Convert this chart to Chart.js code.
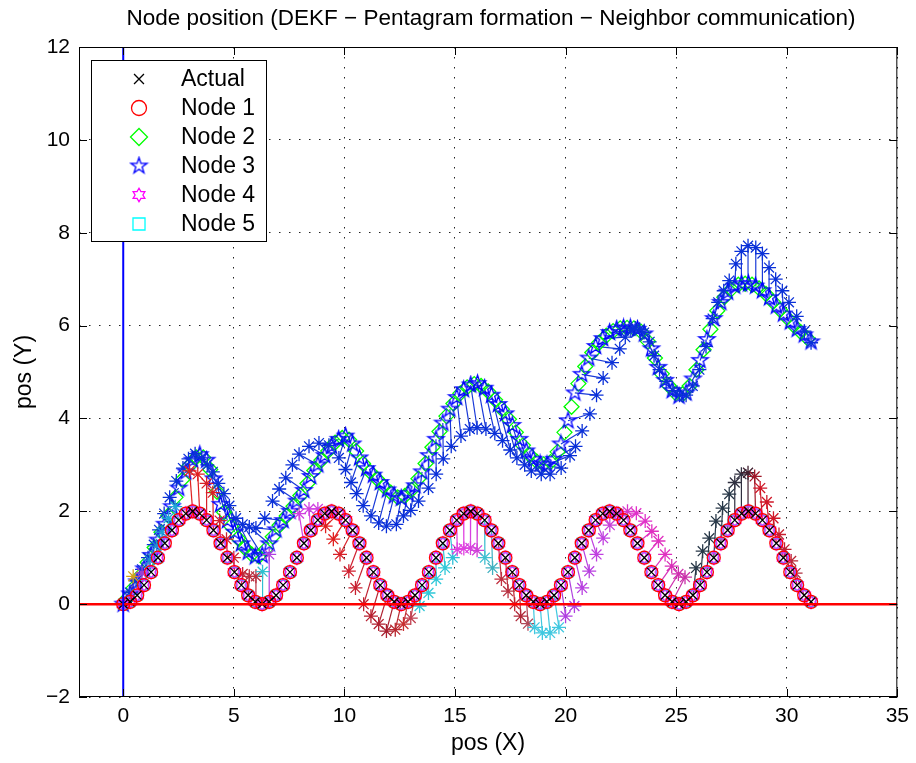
<!DOCTYPE html>
<html>
<head>
<meta charset="utf-8">
<script src="https://cdn.jsdelivr.net/npm/chart.js@4.4.0/dist/chart.umd.min.js"></script>
<style>
  html, body { margin: 0; padding: 0; background: #fff; }
</style>
</head>
<body>
<canvas id="chart" width="916" height="763"></canvas>
<script>
// x of each time sample (lower track and Node 3)
const trackX = [0, 0.31, 0.63, 0.94, 1.26, 1.57, 1.88, 2.2, 2.51, 2.83,
  3.14, 3.46, 3.77, 4.08, 4.4, 4.71, 5.03, 5.34, 5.65, 5.97,
  6.28, 6.6, 6.91, 7.23, 7.54, 7.85, 8.17, 8.48, 8.8, 9.11,
  9.42, 9.74, 10.05, 10.37, 10.68, 11.0, 11.31, 11.62, 11.94, 12.25,
  12.57, 12.88, 13.19, 13.51, 13.82, 14.14, 14.45, 14.77, 15.08, 15.39,
  15.71, 16.02, 16.34, 16.65, 16.96, 17.28, 17.59, 17.91, 18.22, 18.54,
  18.85, 19.16, 19.48, 19.79, 20.11, 20.42, 20.73, 21.05, 21.36, 21.68,
  21.99, 22.31, 22.62, 22.93, 23.25, 23.56, 23.88, 24.19, 24.5, 24.82,
  25.13, 25.45, 25.76, 26.08, 26.39, 26.7, 27.02, 27.33, 27.65, 27.96,
  28.27, 28.59, 28.9, 29.22, 29.53, 29.85, 30.16, 30.47, 30.79, 31.1];

// lower track: Actual, Node 1, Node 4, Node 5
const lowerY = [0, 0.05, 0.19, 0.41, 0.69, 1, 1.31, 1.59, 1.81, 1.95, 2, 1.95, 1.81, 1.59, 1.31, 1, 0.69, 0.41, 0.19, 0.05,
  0, 0.05, 0.19, 0.41, 0.69, 1, 1.31, 1.59, 1.81, 1.95, 2, 1.95, 1.81, 1.59, 1.31, 1, 0.69, 0.41, 0.19, 0.05,
  0, 0.05, 0.19, 0.41, 0.69, 1, 1.31, 1.59, 1.81, 1.95, 2, 1.95, 1.81, 1.59, 1.31, 1, 0.69, 0.41, 0.19, 0.05,
  0, 0.05, 0.19, 0.41, 0.69, 1, 1.31, 1.59, 1.81, 1.95, 2, 1.95, 1.81, 1.59, 1.31, 1, 0.69, 0.41, 0.19, 0.05,
  0, 0.05, 0.19, 0.41, 0.69, 1, 1.31, 1.59, 1.81, 1.95, 2, 1.95, 1.81, 1.59, 1.31, 1, 0.69, 0.41, 0.19, 0.05];

// upper track: Node 3 (pentagrams)
const upperY = [0, 0.22, 0.48, 0.76, 1.05, 1.38, 1.72, 2.1, 2.5, 2.85, 3.1, 3.22, 3.1, 2.7, 2.15, 1.8, 1.55, 1.3, 1.12, 1.02,
  1.05, 1.3, 1.6, 1.8, 2.0, 2.22, 2.45, 2.75, 3.0, 3.2, 3.4, 3.55, 3.62, 3.45, 3.15, 2.92, 2.78, 2.62, 2.46, 2.33,
  2.28, 2.38, 2.55, 2.85, 3.2, 3.55, 3.9, 4.2, 4.45, 4.62, 4.72, 4.75, 4.65, 4.5, 4.3, 4.1, 3.85, 3.55, 3.3, 3.12,
  3.02, 3.0, 3.12, 3.45, 3.95, 4.55, 4.95, 5.3, 5.55, 5.72, 5.85, 5.92, 5.95, 5.95, 5.92, 5.82, 5.5, 5.1, 4.82, 4.6,
  4.48, 4.55, 4.85, 5.25, 5.7, 6.15, 6.5, 6.72, 6.85, 6.9, 6.9, 6.85, 6.75, 6.6, 6.42, 6.25, 6.08, 5.92, 5.8, 5.65];

// Node 2 (diamonds), running just beside Node 3
const node2X = [0.16, 0.47, 0.79, 1.1, 1.42, 1.73, 2.04, 2.36, 2.67, 2.99, 3.3, 3.62, 3.93, 4.24, 4.56, 4.87, 5.19, 5.5, 5.81, 6.13,
  6.44, 6.76, 7.07, 7.39, 7.7, 8.01, 8.33, 8.64, 8.96, 9.27, 9.58, 9.9, 10.21, 10.53, 10.84, 11.16, 11.47, 11.78, 12.1, 12.41,
  12.73, 13.04, 13.35, 13.67, 13.98, 14.3, 14.61, 14.93, 15.24, 15.55, 15.87, 16.18, 16.5, 16.81, 17.12, 17.44, 17.75, 18.07, 18.38, 18.7,
  19.01, 19.32, 19.64, 19.95, 20.27, 20.58, 20.89, 21.21, 21.52, 21.84, 22.15, 22.47, 22.78, 23.09, 23.41, 23.72, 24.04, 24.35, 24.66, 24.98,
  25.29, 25.61, 25.92, 26.24, 26.55, 26.86, 27.18, 27.49, 27.81, 28.12, 28.43, 28.75, 29.06, 29.38, 29.69, 30.01, 30.32, 30.63, 30.95];
const node2Y = [0.11, 0.35, 0.62, 0.9, 1.22, 1.55, 1.91, 2.3, 2.68, 2.98, 3.16, 3.16, 2.9, 2.42, 1.98, 1.68, 1.42, 1.21, 1.07, 1.03,
  1.18, 1.45, 1.7, 1.9, 2.11, 2.34, 2.6, 2.88, 3.1, 3.3, 3.48, 3.58, 3.54, 3.3, 3.03, 2.85, 2.7, 2.54, 2.4, 2.3,
  2.33, 2.46, 2.7, 3.03, 3.38, 3.72, 4.05, 4.32, 4.54, 4.67, 4.74, 4.7, 4.58, 4.4, 4.2, 3.98, 3.7, 3.42, 3.21, 3.07,
  3.01, 3.06, 3.28, 3.7, 4.25, 4.75, 5.12, 5.42, 5.63, 5.78, 5.88, 5.94, 5.95, 5.94, 5.87, 5.66, 5.3, 4.96, 4.71, 4.54,
  4.52, 4.7, 5.05, 5.48, 5.92, 6.32, 6.61, 6.78, 6.88, 6.9, 6.88, 6.8, 6.68, 6.51, 6.34, 6.17, 6.0, 5.86, 5.72];

// estimates of the upper track (blue asterisks), one per sample
const upperEstX = [0, 0.3, 0.58, 0.85, 1.12, 1.38, 1.62, 1.85, 2.1, 2.4, 2.7, 2.95, 3.25, 3.55, 3.8, 4.05, 4.3, 4.55, 4.8, 5.1,
  5.4, 5.7, 6.0, 6.4, 6.75, 7.05, 7.35, 7.65, 7.95, 8.4, 8.85, 9.3, 9.75, 10.05, 10.3, 10.55, 10.85, 11.2, 11.55, 11.9,
  12.35, 12.67, 13.0, 13.35, 13.8, 14.15, 14.47, 14.83, 15.27, 15.67, 16.0, 16.4, 16.8, 17.15, 17.5, 17.8, 18.15, 18.45, 18.9, 19.3,
  19.8, 20.2, 20.45, 20.75, 21.1, 21.4, 21.7, 22.1, 22.45, 22.7, 22.95, 23.15, 23.35, 23.55, 23.8, 24.0, 24.25, 24.55, 24.85, 25.15,
  25.45, 25.75, 26.05, 26.35, 26.65, 26.9, 27.15, 27.4, 27.7, 27.95, 28.25, 28.6, 28.9, 29.2, 29.5, 29.8, 30.1, 30.45, 30.8, 31.1];
const upperEstY = [0, 0.25, 0.5, 0.75, 1.0, 1.28, 1.6, 1.95, 2.3, 2.65, 2.93, 3.13, 3.24, 3.15, 3.0, 2.85, 2.6, 2.38, 2.12, 1.85,
  1.72, 1.66, 1.64, 1.85, 2.22, 2.48, 2.72, 3.0, 3.23, 3.4, 3.47, 3.42, 3.15, 2.9, 2.62, 2.38, 2.12, 1.9, 1.75, 1.68,
  1.72, 1.9, 2.02, 2.22, 2.5, 2.8, 3.13, 3.4, 3.62, 3.77, 3.8, 3.77, 3.68, 3.52, 3.32, 3.15, 3.0, 2.87, 2.8, 2.8,
  2.93, 3.2, 3.4, 3.73, 4.1, 4.5, 4.87, 5.2, 5.5, 5.75, 5.9, 5.95, 5.92, 5.85, 5.65, 5.35, 5.05, 4.8, 4.6, 4.5,
  4.5, 4.7, 5.05, 5.55, 6.15, 6.5, 6.75, 6.97, 7.33, 7.6, 7.72, 7.68, 7.55, 7.25, 7.0, 6.75, 6.5, 6.2, 5.88, 5.63];

// estimates of the lower track that stand off it; K = sample they belong to
const lowerEstK = [1, 2, 4, 5, 6, 7, 8, 10, 11, 12, 13, 14, 15, 16, 17, 18, 19, 20, 21,
  26, 27, 28, 31, 32, 33, 34, 35, 36, 37, 38, 39, 40, 41, 42, 43, 44, 45, 46, 47,
  48, 49, 50, 51, 52, 53, 54, 55, 56, 57, 58, 59, 60, 61, 62, 63, 64, 65, 66, 67, 68,
  69, 70, 71, 72, 73, 74, 75, 76, 77, 78, 79,
  82, 83, 84, 85, 86, 87, 88, 89, 90, 91, 92, 93, 94, 95, 96, 97, 98];
const lowerEstX = [0.45, 0.85, 1.2, 1.5, 1.75, 2.05, 2.35, 3.0, 3.37, 3.77, 4.05, 4.36, 4.67, 5.0, 5.4, 5.7, 6.0, 6.3, 6.6,
  7.95, 8.4, 8.8, 9.15, 9.5, 9.8, 10.2, 10.5, 10.87, 11.2, 11.55, 11.9, 12.3, 12.67, 13.0, 13.4, 13.8, 14.15, 14.55, 14.9,
  15.1, 15.4, 15.7, 16.0, 16.35, 16.7, 17.1, 17.4, 17.7, 17.97, 18.3, 18.6, 18.95, 19.3, 19.7, 20.0, 20.4, 20.75, 21.07, 21.4, 21.7,
  22.0, 22.4, 22.8, 23.2, 23.6, 23.9, 24.2, 24.5, 24.8, 25.1, 25.4,
  25.9, 26.2, 26.5, 26.8, 27.1, 27.4, 27.65, 27.95, 28.25, 28.55, 28.8, 29.1, 29.4, 29.65, 29.9, 30.2, 30.4];
const lowerEstY = [0.6, 0.67, 0.95, 1.25, 1.55, 1.85, 2.1, 2.87, 2.8, 2.6, 2.4, 1.8, 1.4, 1.0, 0.65, 0.6, 0.6, 0.7, 1.07,
  1.95, 2.05, 2.05, 1.68, 1.4, 1.07, 0.71, 0.35, 0.0, -0.26, -0.43, -0.58, -0.55, -0.43, -0.3, -0.04, 0.24, 0.54, 0.78, 1.0,
  1.18, 1.2, 1.21, 1.16, 1.0, 0.78, 0.54, 0.28, 0.0, -0.26, -0.42, -0.5, -0.62, -0.62, -0.5, -0.26, -0.04, 0.35, 0.71, 1.07, 1.42,
  1.7, 1.95, 2.0, 1.96, 1.79, 1.57, 1.36, 1.07, 0.82, 0.65, 0.58,
  0.78, 1.14, 1.42, 1.79, 2.07, 2.37, 2.62, 2.8, 2.83, 2.75, 2.5, 2.2, 1.85, 1.5, 1.18, 0.93, 0.67];
const lowerEstColor = ['#d4a017', '#a040d0', '#2090d0', '#2090d0', '#20a0d8', '#20a8d8', '#20a8d8',
  '#e02020', '#e02020', '#d82028', '#d82028', '#d02030', '#d02030', '#c82838', '#c02838', '#b83040', '#b83040', '#30c0d0', '#b040e0',
  '#d040e0', '#d040e0', '#d040e0',
  '#e02020', '#e02020', '#d82028', '#d02030', '#c82030', '#c02030', '#b82030', '#b02030', '#a82030', '#b82830', '#c83030', '#c04050',
  '#30c8d8', '#30c8d8', '#30c8d8', '#30c8d8', '#30c0d8',
  '#e040e0', '#e040e0', '#d840e0', '#d040d8', '#40c0d0', '#40b0c0',
  '#c03040', '#b83040', '#c02030', '#b02838', '#b04858',
  '#40c8e0', '#40c8e0', '#40c8e0', '#40c8e0',
  '#b040e0', '#b040e0', '#b840e0', '#b840e0', '#c040e0', '#c040e0',
  '#c840d8', '#d040d0', '#d838c8', '#e030c8', '#e030c8', '#e030c0', '#e030c0', '#e030c0', '#d830b8', '#d030b0', '#c830a8',
  '#283848', '#283848', '#283848', '#283848', '#283848', '#283848', '#303040', '#303040', '#402030',
  '#a01828', '#d01828', '#d01828', '#d01828', '#c82030', '#c02030', '#b82838', '#b03040'];

// reference lines drawn along the axes
const zeroLineX = [-2, 35];
const zeroLineY = [-2, 12];

const xTicks = [0, 5, 10, 15, 20, 25, 30, 35];
const yTicks = [-2, 0, 2, 4, 6, 8, 10, 12];
const legendNames = ['Actual', 'Node 1', 'Node 2', 'Node 3', 'Node 4', 'Node 5'];

const FONT = '"Liberation Sans", Arial, Helvetica, sans-serif';
const LW = 1.3;

function starShape(n, rOut, rIn, color) {
  const size = Math.ceil(rOut * 2 + 4);
  const c = document.createElement('canvas');
  c.width = size; c.height = size;
  const g = c.getContext('2d');
  g.strokeStyle = color;
  g.lineWidth = LW;
  g.beginPath();
  for (let i = 0; i < 2 * n; i++) {
    const r = i % 2 ? rIn : rOut;
    const a = -Math.PI / 2 + i * Math.PI / n;
    const px = size / 2 + r * Math.cos(a), py = size / 2 + r * Math.sin(a);
    if (i === 0) g.moveTo(px, py); else g.lineTo(px, py);
  }
  g.closePath();
  g.stroke();
  return c;
}
const pentagram = starShape(5, 8.5, 3.3, '#0000ff');
const hexagram = starShape(6, 6.8, 3.9, '#ff00ff');

const pts = (xs, ys) => xs.map((v, i) => ({x: v, y: ys[i]}));
const lowerPts = pts(trackX, lowerY);
const upperPts = pts(trackX, upperY);

function stems(kList, ex, ey, ty) {
  const out = [];
  kList.forEach((k, i) => {
    out.push({x: trackX[k], y: ty[k]}, {x: ex[i], y: ey[i]}, {x: ex[i], y: null});
  });
  return out;
}
const upperK = trackX.map((v, i) => i);

function marker(label, data, style, color, radius, order) {
  return {
    label, data, order,
    pointStyle: style,
    pointRadius: radius,
    pointBorderColor: color,
    pointBackgroundColor: 'rgba(0,0,0,0)',
    pointBorderWidth: LW,
    showLine: false
  };
}

const datasets = [
  {
    label: 'lower stems', order: 12, showLine: true, pointRadius: 0, borderWidth: 1.2,
    data: stems(lowerEstK, lowerEstX, lowerEstY, lowerY),
    segment: { borderColor: c => lowerEstColor[Math.floor(c.p0DataIndex / 3)] }
  },
  {
    label: 'upper stems', order: 11, showLine: true, pointRadius: 0, borderWidth: 1.2,
    borderColor: '#1a3ad8',
    data: stems(upperK, upperEstX, upperEstY, upperY)
  },
  marker('Node 2', pts(node2X, node2Y), 'rectRot', '#00ff00', 7.5, 10),
  marker('Node 3', upperPts, pentagram, '#0000ff', 8, 9),
  marker('upper estimate', pts(upperEstX, upperEstY), 'star', '#0a30d8', 7, 8),
  marker('lower estimate', pts(lowerEstX, lowerEstY), 'star', lowerEstColor, 7, 7),
  marker('Node 5', lowerPts, 'rect', '#00ffff', 6.8, 6),
  marker('Node 4', lowerPts, hexagram, '#ff00ff', 6.5, 5),
  marker('Node 1', lowerPts, 'circle', '#ff0000', 6.5, 4),
  marker('Actual', lowerPts, 'crossRot', '#000000', 6, 3),
  {
    label: 'y = 0', order: 2, showLine: true, pointRadius: 0, borderWidth: 2.5, borderColor: '#ff0000',
    data: zeroLineX.map(v => ({x: v, y: 0}))
  },
  {
    label: 'x = 0', order: 1, showLine: true, pointRadius: 0, borderWidth: 2, borderColor: '#0000ff',
    data: zeroLineY.map(v => ({x: 0, y: v}))
  }
];

const legendStyles = [
  {style: 'crossRot', color: '#000000', r: 7},
  {style: 'circle', color: '#ff0000', r: 7.5},
  {style: 'rectRot', color: '#00ff00', r: 8.5},
  {style: pentagram, color: '#0000ff', r: 8},
  {style: hexagram, color: '#ff00ff', r: 7},
  {style: 'rect', color: '#00ffff', r: 8.5}
];

const decor = {
  id: 'decor',
  afterDatasetsDraw(chart) {
    const {ctx, chartArea: a, scales: {x, y}} = chart;
    ctx.save();
    ctx.strokeStyle = '#000';
    ctx.lineWidth = 1;
    ctx.strokeRect(a.left + 0.5, a.top + 0.5, a.right - a.left - 1, a.bottom - a.top - 1);
    ctx.beginPath();
    xTicks.forEach(v => {
      const p = Math.round(x.getPixelForValue(v)) + 0.5;
      ctx.moveTo(p, a.bottom); ctx.lineTo(p, a.bottom - 8);
      ctx.moveTo(p, a.top); ctx.lineTo(p, a.top + 8);
    });
    yTicks.forEach(v => {
      const p = Math.round(y.getPixelForValue(v)) + 0.5;
      ctx.moveTo(a.left, p); ctx.lineTo(a.left + 8, p);
      ctx.moveTo(a.right, p); ctx.lineTo(a.right - 8, p);
    });
    ctx.stroke();

    ctx.fillStyle = '#000';
    ctx.textAlign = 'center';
    ctx.textBaseline = 'middle';
    ctx.font = '22.5px ' + FONT;
    ctx.fillText('Node position (DEKF \u2212 Pentagram formation \u2212 Neighbor communication)', 491, 19);
    ctx.font = '23px ' + FONT;
    ctx.fillText('pos (X)', 488, 744);
    ctx.save();
    ctx.translate(25, (a.top + a.bottom) / 2);
    ctx.rotate(-Math.PI / 2);
    ctx.fillText('pos (Y)', 0, 0);
    ctx.restore();

    // legend box
    ctx.fillStyle = '#fff';
    ctx.fillRect(91, 60, 175, 181);
    ctx.strokeStyle = '#000';
    ctx.strokeRect(91.5, 60.5, 175, 181);
    ctx.font = '23px ' + FONT;
    ctx.textAlign = 'left';
    legendNames.forEach((name, i) => {
      const cy = 79 + i * 29;
      const s = legendStyles[i];
      ctx.strokeStyle = s.color;
      ctx.fillStyle = 'rgba(0,0,0,0)';
      ctx.lineWidth = LW;
      Chart.helpers.drawPoint(ctx, {pointStyle: s.style, radius: s.r, rotation: 0, borderWidth: LW}, 139, cy);
      ctx.fillStyle = '#000';
      ctx.fillText(name, 181, cy + 1);
    });
    ctx.restore();
  }
};

new Chart(document.getElementById('chart'), {
  type: 'scatter',
  data: { datasets },
  options: {
    responsive: false,
    animation: false,
    events: [],
    layout: { padding: { left: 0, right: 14, top: 47, bottom: 0 } },
    plugins: { legend: { display: false }, tooltip: { enabled: false }, title: { display: false } },
    scales: {
      x: {
        type: 'linear', min: -2, max: 35,
        afterBuildTicks: s => { s.ticks = xTicks.map(v => ({value: v})); },
        afterFit: s => { s.height = 66; },
        grid: { color: '#222', lineWidth: 1, drawTicks: false },
        border: { display: false, dash: [1.5, 8.5] },
        ticks: { color: '#000', font: { family: FONT, size: 21 }, padding: 7, maxRotation: 0 }
      },
      y: {
        type: 'linear', min: -2, max: 12,
        afterBuildTicks: s => { s.ticks = yTicks.map(v => ({value: v})); },
        afterFit: s => { s.width = 79; },
        grid: { color: '#222', lineWidth: 1, drawTicks: false },
        border: { display: false, dash: [1.5, 8.5] },
        ticks: { color: '#000', font: { family: FONT, size: 21 }, padding: 9,
          callback: v => String(v).replace('-', '\u2212') }
      }
    }
  },
  plugins: [decor]
});
</script>
</body>
</html>
